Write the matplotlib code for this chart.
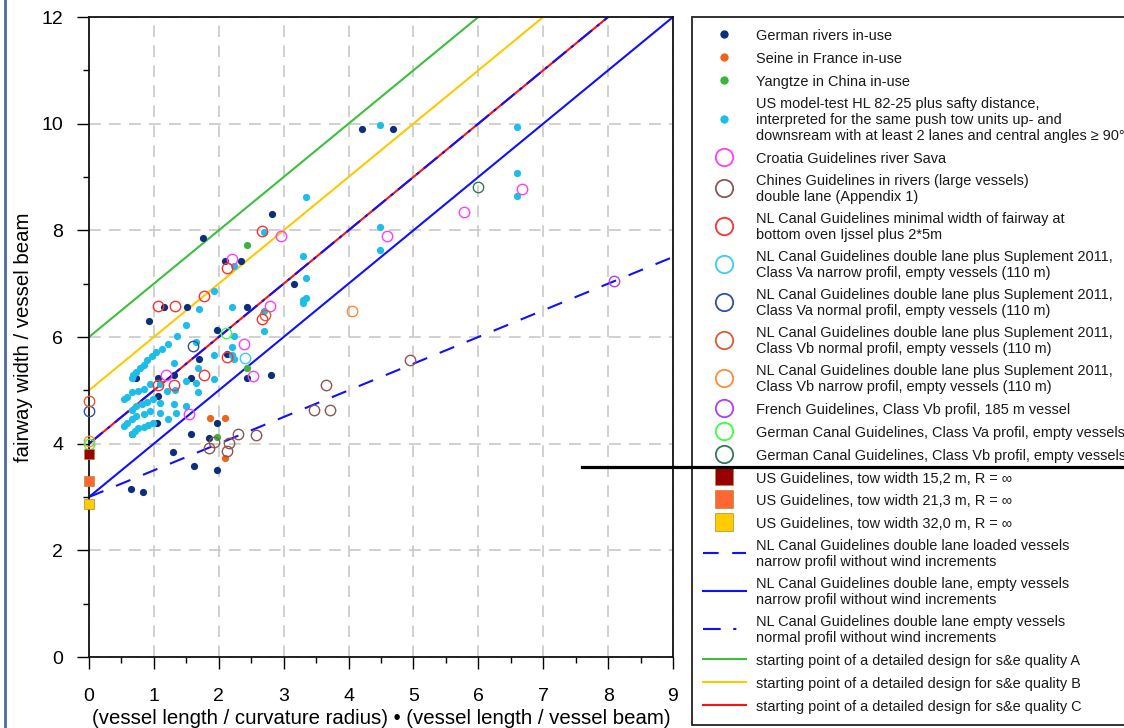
import matplotlib
matplotlib.use("Agg")
import matplotlib.pyplot as plt
from matplotlib.lines import Line2D
from matplotlib.ticker import MultipleLocator

plt.rcParams['font.family'] = ['Liberation Sans', 'DejaVu Sans']

# --- data ---
# filled dots: in-use fairways / model tests
german_x = [4.21, 4.68, 2.82, 1.75, 2.10, 2.34, 3.16, 0.93, 1.15, 1.51, 2.43, 1.97, 2.12, 1.69,
            0.73, 1.06, 1.31, 1.57, 2.43, 2.81, 1.06, 1.05, 0.67, 1.57, 1.85, 1.97, 1.30, 1.62,
            1.97, 0.65, 0.83]
german_y = [9.90, 9.90, 8.30, 7.86, 7.43, 7.43, 7.00, 6.30, 6.56, 6.56, 6.56, 6.13, 5.68, 5.59,
            5.24, 5.24, 5.29, 5.24, 5.24, 5.29, 4.90, 4.38, 4.19, 4.19, 4.10, 4.38, 3.85, 3.58,
            3.51, 3.15, 3.09]
seine_x = [1.86, 2.10, 2.10]
seine_y = [4.49, 4.49, 3.74]
yangtze_x = [2.43, 2.43, 1.97]
yangtze_y = [7.73, 5.41, 4.12]
usmodel_x = [4.48, 6.59, 6.59, 6.59, 4.48, 4.48, 3.35, 2.69, 2.23, 3.30, 3.35, 3.35, 3.30, 3.30,
             1.92, 1.49, 2.20, 2.69, 2.69, 1.70, 1.35, 2.23, 2.20,
             1.22, 1.12, 1.04, 0.97, 0.89, 0.84, 0.79, 0.73, 0.68, 0.67,
             1.65, 1.31, 1.68, 1.92, 1.65, 1.68, 1.49, 1.09, 1.20, 1.33,
             0.94, 0.84, 0.75, 0.66, 0.58, 0.54,
             0.99, 0.89, 0.81, 0.73, 0.67, 1.09, 1.31, 1.49,
             0.94, 1.10, 1.34, 1.22,
             0.84, 0.73, 0.66, 0.58, 0.54,
             0.99, 0.91, 0.84, 0.76, 0.71, 0.67,
             2.20, 2.24, 1.92]
usmodel_y = [9.97, 9.93, 9.08, 8.64, 8.06, 7.64, 8.63, 7.96, 7.33, 7.52, 7.10, 6.74, 6.69, 6.63,
             6.87, 6.23, 6.56, 6.49, 6.12, 6.52, 6.02, 6.02, 5.82,
             5.86, 5.78, 5.71, 5.64, 5.56, 5.48, 5.41, 5.35, 5.29, 5.24,
             5.91, 5.52, 5.41, 5.22, 5.13, 4.96, 5.18, 5.12, 4.98, 5.00,
             5.12, 5.02, 4.99, 4.96, 4.88, 4.83,
             4.83, 4.79, 4.74, 4.71, 4.64, 4.77, 4.74, 4.71,
             4.62, 4.58, 4.58, 4.47,
             4.56, 4.51, 4.46, 4.39, 4.33,
             4.38, 4.35, 4.32, 4.29, 4.24, 4.18,
             5.66, 5.58, 5.66]

# open circles: guidelines
croatia_x = [2.21, 2.96, 2.79, 2.39, 1.18, 1.54, 2.52, 4.60, 5.78, 6.68]
croatia_y = [7.46, 7.89, 6.59, 5.86, 5.29, 4.56, 5.27, 7.90, 8.34, 8.77]
chines_x = [3.65, 3.46, 3.72, 2.30, 2.58, 1.85, 1.92, 2.16, 2.12, 4.95]
chines_y = [5.10, 4.63, 4.63, 4.18, 4.17, 3.91, 4.04, 4.02, 3.86, 5.56]
nlmin_x = [1.06, 1.33, 1.77, 2.66, 2.13, 2.66, 1.07, 1.31, 1.77, 2.12]
nlmin_y = [6.58, 6.58, 6.76, 7.99, 7.29, 6.33, 5.10, 5.10, 5.29, 5.62]
va_narrow_x, va_narrow_y = [2.41], [5.60]
va_normal_x, va_normal_y = [1.61, 0.0], [5.83, 4.62]
vb_normal_x, vb_normal_y = [0.0, 2.71], [4.80, 6.41]
vb_narrow_x, vb_narrow_y = [4.06, 0.0], [6.49, 4.05]
french_x, french_y = [8.09], [7.05]
gcanal_va_x, gcanal_va_y = [2.11, 0.0], [6.08, 3.99]
gcanal_vb_x, gcanal_vb_y = [5.99], [8.81]

# US guidelines at R = infinity
us_x = [0.0]
us152_y = [3.81]
us213_y = [3.30]
us320_y = [2.87]

# guideline lines (end points)
loaded_x, loaded_y = [0, 9], [3, 7.5]
empty_narrow_x, empty_narrow_y = [0, 9], [3, 12]
empty_normal_x, empty_normal_y = [0, 8], [4, 12]
qa_x, qa_y = [0, 6], [6, 12]
qb_x, qb_y = [0, 7], [5, 12]
qc_x, qc_y = [0, 8], [4, 12]

fig = plt.figure(figsize=(11.24, 7.28), dpi=100)
ax = fig.add_axes([89/1124, 1-657/728, (673-89)/1124, (657-17)/728])

BLUE = '#1010ff'
dashed = (0, (7.5, 6.5))
dashdot = (0, (8.5, 3.0, 1.5, 3.0))

ax.plot(qa_x, qa_y, color='#3cc03c', lw=1.5, zorder=2)
ax.plot(qb_x, qb_y, color='#ffc800', lw=1.5, zorder=2)
ax.plot(qc_x, qc_y, color='#ff1010', lw=1.5, zorder=2)
ax.plot(empty_normal_x, empty_normal_y, color=BLUE, lw=1.5, ls=dashdot, zorder=2.1)
ax.plot(empty_narrow_x, empty_narrow_y, color=BLUE, lw=1.5, zorder=2)
ax.plot(loaded_x, loaded_y, color=BLUE, lw=1.5, ls=dashed, zorder=2)

dot_ms = 5.2
open_ms = 7.5
sq_ms = 7.5

filled = [
    (german_x, german_y, '#0b2f7e', 'German rivers in-use'),
    (seine_x, seine_y, '#f06418', 'Seine in France in-use'),
    (yangtze_x, yangtze_y, '#3cb43c', 'Yangtze in China in-use'),
    (usmodel_x, usmodel_y, '#1cbde8',
     'US model-test HL 82-25 plus safty distance,\n'
     'interpreted for the same push tow units up- and\n'
     'downsream with at least 2 lanes and central angles \u2265 90\u00b0'),
]
opened = [
    (croatia_x, croatia_y, '#ff3cff', 'Croatia Guidelines river Sava'),
    (chines_x, chines_y, '#8c5656', 'Chines Guidelines in rivers (large vessels)\ndouble lane (Appendix 1)'),
    (nlmin_x, nlmin_y, '#ff3030', 'NL Canal Guidelines minimal width of fairway at\nbottom oven Ijssel plus 2*5m'),
    (va_narrow_x, va_narrow_y, '#38ccff', 'NL Canal Guidelines double lane plus Suplement 2011,\nClass Va narrow profil, empty vessels (110 m)'),
    (va_normal_x, va_normal_y, '#2f4fa8', 'NL Canal Guidelines double lane plus Suplement 2011,\nClass Va normal profil, empty vessels (110 m)'),
    (vb_normal_x, vb_normal_y, '#e05a32', 'NL Canal Guidelines double lane plus Suplement 2011,\nClass Vb normal profil, empty vessels (110 m)'),
    (vb_narrow_x, vb_narrow_y, '#ff8c3c', 'NL Canal Guidelines double lane plus Suplement 2011,\nClass Vb narrow profil, empty vessels (110 m)'),
    (french_x, french_y, '#b03cff', 'French Guidelines, Class Vb profil, 185 m vessel'),
    (gcanal_va_x, gcanal_va_y, '#3cff3c', 'German Canal Guidelines, Class Va profil, empty vessels'),
    (gcanal_vb_x, gcanal_vb_y, '#2e7a5a', 'German Canal Guidelines, Class Vb profil, empty vessels'),
]
squares = [
    (us152_y, '#990000', 'US Guidelines, tow width 15,2 m, R = \u221e'),
    (us213_y, '#ff6633', 'US Guidelines, tow width 21,3 m, R = \u221e'),
    (us320_y, '#ffcc00', 'US Guidelines, tow width 32,0 m, R = \u221e'),
]

handles = []
for xs, ys, c, lab in filled:
    ax.plot(xs, ys, 'o', color=c, ms=dot_ms, mew=0, zorder=4, clip_on=False)
    handles.append(Line2D([], [], ls='none', marker='o', color=c, ms=6, mew=0, label=lab))
for xs, ys, c, lab in opened:
    ax.plot(xs, ys, 'o', mfc='none', mec=c, ms=open_ms, mew=1.0, zorder=4, clip_on=False)
    handles.append(Line2D([], [], ls='none', marker='o', mfc='none', mec=c, ms=12.5, mew=1.3, label=lab))
for ys, c, lab in squares:
    ax.plot(us_x, ys, 's', color=c, ms=sq_ms, mew=0.5, mec='#b08a30', zorder=5, clip_on=False)
    handles.append(Line2D([], [], ls='none', marker='s', color=c, ms=13, mew=0.5, mec='#b08a30', label=lab))
handles += [
    Line2D([], [], color=BLUE, lw=1.5, ls=dashed,
           label='NL Canal Guidelines double lane loaded vessels\nnarrow profil without wind increments'),
    Line2D([], [], color=BLUE, lw=1.5,
           label='NL Canal Guidelines double lane, empty vessels\nnarrow profil without wind increments'),
    Line2D([], [], color=BLUE, lw=1.5, ls=(0, (8.5, 6.0, 1.5, 6.0)),
           label='NL Canal Guidelines double lane empty vessels\nnormal profil without wind increments'),
    Line2D([], [], color='#3cc03c', lw=1.5, label='starting point of a detailed design for s&e quality A'),
    Line2D([], [], color='#ffc800', lw=1.5, label='starting point of a detailed design for s&e quality B'),
    Line2D([], [], color='#ff1010', lw=1.5, label='starting point of a detailed design for s&e quality C'),
]

ax.set_xlim(0, 9)
ax.set_ylim(0, 12)
ax.xaxis.set_major_locator(MultipleLocator(1))
ax.xaxis.set_minor_locator(MultipleLocator(0.5))
ax.yaxis.set_major_locator(MultipleLocator(2))
ax.yaxis.set_minor_locator(MultipleLocator(1))
ax.tick_params(which='major', direction='out', length=8.5, width=1.0, labelsize=14, colors='black')
ax.tick_params(which='minor', direction='out', length=4.5, width=1.0)
ax.tick_params(axis='x', which='major', pad=13.5)
ax.tick_params(axis='y', which='major', pad=10)
ax.grid(True, which='major', color='#c8c8c8', lw=1.2, ls=(0, (7, 5)), zorder=0)
for s in ax.spines.values():
    s.set_linewidth(1.3)
    s.set_color('#111111')

ax.set_xlabel('(vessel length / curvature radius) \u2022 (vessel length / vessel beam)', fontsize=14.7, labelpad=3)
ax.set_ylabel('fairway width / vessel beam', fontsize=14.7, labelpad=6)

leg = fig.legend(handles=handles, loc='upper left', bbox_to_anchor=(692/1124, 1-17/728),
                 bbox_transform=fig.transFigure, borderaxespad=0, fontsize=10.45,
                 frameon=True, fancybox=False, edgecolor='#222222', framealpha=1,
                 handlelength=2.95, handletextpad=0.72, borderpad=0.75, labelspacing=0.52,
                 handleheight=1.2)
leg.get_frame().set_linewidth(1.3)
for t in leg.get_texts():
    t.set_linespacing(1.22)
    t.set_color('#1a1a1a')

# stray frame lines that are part of the screenshot
fig.add_artist(Line2D([582/1124, 1.0], [1-467/728, 1-467/728], color='black', lw=2.3, zorder=10))
fig.add_artist(Line2D([5/1124, 5/1124], [0, 1], color='#4a6aa5', lw=2.0, zorder=10))

fig.savefig('out.png', dpi=100)
